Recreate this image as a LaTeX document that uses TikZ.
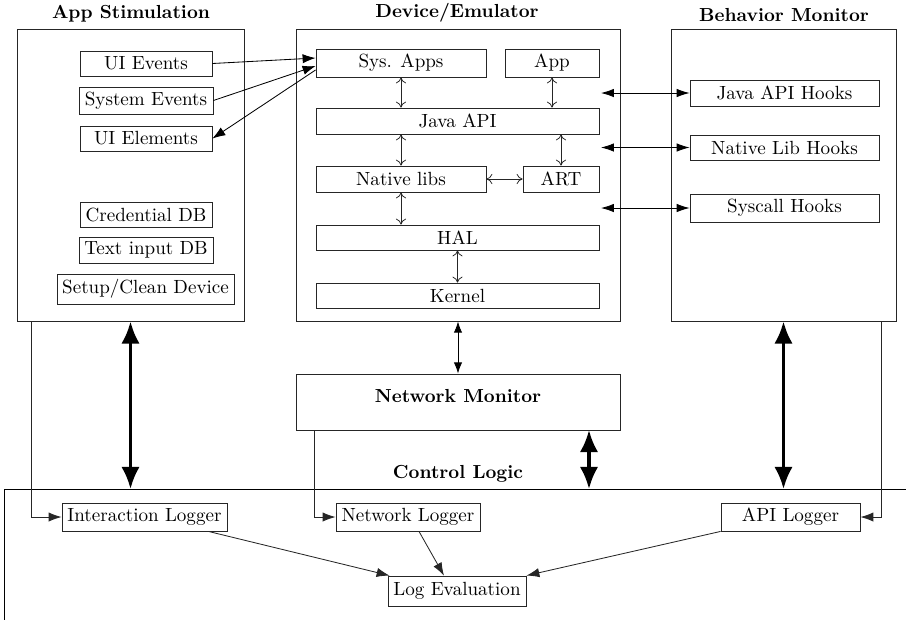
\documentclass[tikz,border=0pt]{standalone}
\usetikzlibrary{arrows.meta,calc}
\newcommand\mkbox[7][box]{\node[#1,minimum width={(#5-#3)*0.54pt},minimum height={(#6-#4)*0.54pt}] (#2) at ({(#3+#5)/2},{(#4+#6)/2}) {#7};}
\begin{document}
\begin{tikzpicture}[x=0.54pt,y=-0.54pt,
  box/.style={draw=black!85,line width=0.45pt,inner sep=0pt,font=\fontsize{10.3}{12}\selectfont},
  bigbox/.style={draw=black!85,line width=0.5pt,inner sep=0pt},
  ttl/.style={font=\fontsize{10.2}{12}\selectfont\bfseries,inner sep=0pt},
  inarr/.style={line width=0.4pt,draw=black!85,{To[length=3.2pt,width=5.5pt]}-{To[length=3.2pt,width=5.5pt]}},
  hookarr/.style={line width=0.45pt,{Latex[length=7pt,width=4.6pt]}-{Latex[length=7pt,width=4.6pt]}},
  evarr/.style={line width=0.45pt,-{Latex[length=7pt,width=5pt]}},
  thickarr/.style={line width=1.9pt,{Latex[length=12pt,width=10pt]}-{Latex[length=12pt,width=10pt]}},
  logarr/.style={line width=0.45pt,draw=black!85,-{Latex[length=7pt,width=5pt]}},
  nmarr/.style={line width=0.45pt,{Latex[length=6pt,width=4.5pt]}-{Latex[length=6pt,width=4.5pt]}}]
\useasboundingbox (0,0) rectangle (906,620);

% ---- App Stimulation
\mkbox[bigbox]{appstim}{17}{29}{244}{321}{}
\node[ttl] (tapp) at (131,14) {App Stimulation};
\mkbox{uiev}{80}{51}{212}{76}{UI Events}
\mkbox{sysev}{79}{87}{213}{114}{System Events}
\mkbox{uiel}{80}{126}{212}{151}{UI Elements}
\mkbox{creddb}{80}{202}{212}{227}{Credential DB}
\mkbox{textdb}{79}{237}{213}{263}{Text input DB}
\mkbox{setup}{57}{274}{234}{304}{Setup/Clean Device}

% ---- Device/Emulator
\mkbox[bigbox]{dev}{296}{29}{620}{321}{}
\node[ttl] (tdev) at (457,13) {Device/Emulator};
\mkbox{sysapps}{316}{49}{486}{77}{Sys. Apps}
\mkbox{app}{505}{49}{599}{77}{App}
\mkbox{javaapi}{316}{108}{599}{134}{Java API}
\mkbox{natlibs}{316}{166}{486}{192}{Native libs}
\mkbox{art}{523}{166}{599}{192}{ART}
\mkbox{hal}{316}{225}{599}{250}{HAL}
\mkbox{kernel}{316}{283}{599}{308}{Kernel}

\draw[inarr] (sysapps.south) -- (sysapps.south |- javaapi.north);
\draw[inarr] (app.south) -- (app.south |- javaapi.north);
\draw[inarr] (natlibs.north |- javaapi.south) -- (natlibs.north);
\draw[inarr] (art.north |- javaapi.south) -- (art.north);
\draw[inarr] (natlibs.east) -- (art.west);
\draw[inarr] (natlibs.south) -- (natlibs.south |- hal.north);
\draw[inarr] (hal.south) -- (hal.south |- kernel.north);

% ---- Behavior Monitor
\mkbox[bigbox]{beh}{671}{29}{896}{321}{}
\node[ttl] (tbeh) at (784,15) {Behavior Monitor};
\mkbox{jhooks}{690}{80}{879}{106}{Java API Hooks}
\mkbox{nhooks}{690}{135}{879}{160}{Native Lib Hooks}
\mkbox{shooks}{690}{194}{879}{222}{Syscall Hooks}

\coordinate (h1) at (601,93);
\coordinate (h2) at (601,147.5);
\coordinate (h3) at (601,208);
\draw[hookarr] (h1) -- (jhooks.west);
\draw[hookarr] (h2) -- (nhooks.west);
\draw[hookarr] (h3) -- (shooks.west);

% ---- events arrows
\draw[evarr] (uiev.east) -- ($(sysapps.west)+(0,-5)$);
\draw[evarr] (sysev.east) -- ($(sysapps.west)+(0,3)$);
\draw[evarr] ($(sysapps.west)+(0,7)$) -- (uiel.east);

% ---- Network Monitor
\mkbox[bigbox]{netmon}{296}{374}{620}{430}{}
\node[ttl] (tnm) at (458,396) {Network Monitor};
\draw[nmarr] (dev.south) -- (netmon.north);

% ---- Control Logic
\node[ttl] (tctrl) at (458,474) {Control Logic};
\coordinate (cl1) at (906,489);
\coordinate (cl2) at (4,489);
\coordinate (cl3) at (4,620);
\draw[line width=0.5pt] (cl1) -- (cl2) -- (cl3);

\draw[thickarr] (appstim.south) -- (appstim.south |- cl2);
\draw[thickarr] (beh.south) -- (beh.south |- cl2);
\coordinate (nmb) at (589,430);
\draw[thickarr] (nmb) -- (nmb |- cl2);

% ---- Loggers
\mkbox{intlog}{62}{503}{227}{531}{Interaction Logger}
\mkbox{netlog}{336}{503}{480}{531}{Network Logger}
\mkbox{apilog}{721}{503}{860}{531}{API Logger}
\mkbox{logeval}{388}{576}{526}{606}{Log Evaluation}

\coordinate (s1) at (31,321);
\coordinate (s2) at (314,430);
\coordinate (s3) at (881,321);
\draw[logarr] (s1) |- (intlog.west);
\draw[logarr] (s2) |- (netlog.west);
\draw[logarr] (s3) |- (apilog.east);

\draw[logarr] ($(intlog.south east)+(-19,0)$) -- ($(logeval.north west)+(2,0)$);
\draw[logarr] ($(netlog.south)+(11,0)$) -- ($(logeval.north)+(-13,0)$);
\draw[logarr] (apilog.south west) -- (logeval.north east);
\end{tikzpicture}
\end{document}
